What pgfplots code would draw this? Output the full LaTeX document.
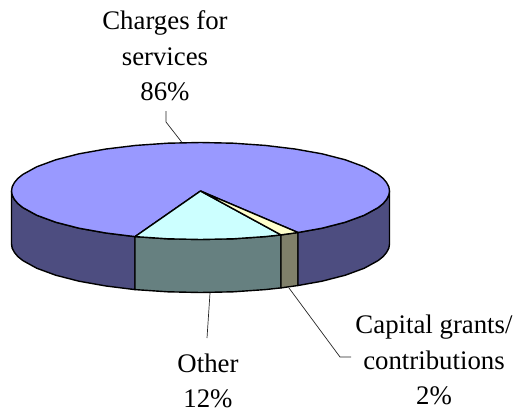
\documentclass[border=0pt]{standalone}
\usepackage{pgfplots}
\usepackage{fontspec}
\setmainfont{Liberation Serif}
\pgfplotsset{compat=1.18}
\definecolor{topA}{HTML}{9999FF}
\definecolor{topB}{HTML}{CCFFFF}
\definecolor{topC}{HTML}{FFFFCC}
\definecolor{sideA}{HTML}{4D4D80}
\definecolor{sideB}{HTML}{668080}
\definecolor{sideC}{HTML}{80806A}
\newcommand{\lab}{\fontsize{26.8}{35.5}\selectfont}
\begin{document}
\begin{tikzpicture}[x=1pt,y=1pt]
\useasboundingbox (0,0) rectangle (513pt,413pt);
\begin{axis}[at={(0,0)},anchor=south west,scale only axis,width=513pt,height=413pt,
  xmin=0,xmax=513,ymin=0,ymax=413,y dir=reverse,hide axis,clip=false]
% outer wall, left part
\addplot[fill=sideA,draw=black,line width=1.4pt,line join=round] coordinates {
(11.5,191)(12.2,195.2)(14.4,199.4)(17.9,203.6)(22.9,207.6)(36.8,215.25)(55.7,222.2)(79.0,228.2)(106.0,233.0)(135.0,236.6)
(135.0,289.6)(106.0,286.0)(79.0,281.2)(55.7,275.2)(36.8,268.25)(22.9,260.6)(17.9,256.6)(14.4,252.4)(12.2,248.2)(11.5,244)(11.5,191)};
% outer wall, Other
\addplot[fill=sideB,draw=black,line width=1.4pt,line join=round] coordinates {
(135.0,236.6)(167.7,238.8)(200.5,239.5)(233.3,238.8)(265.1,236.6)(281,234.9)
(281,287.9)(265.1,289.6)(233.3,291.8)(200.5,292.5)(167.7,291.8)(135.0,289.6)(135.0,236.6)};
% outer wall, Capital grants
\addplot[fill=sideC,draw=black,line width=1.4pt,line join=round] coordinates {
(281,234.9)(298,232.5)(298,285.5)(281,287.9)(281,234.9)};
% outer wall, right part
\addplot[fill=sideA,draw=black,line width=1.4pt,line join=round] coordinates {
(298,232.5)(322.0,228.2)(345.3,222.2)(364.2,215.25)(378.1,207.6)(383.1,203.6)(386.6,199.4)(388.8,195.2)(389.5,191)
(389.5,244)(388.8,248.2)(386.6,252.4)(383.1,256.6)(378.1,260.6)(364.2,268.25)(345.3,275.2)(322.0,281.2)(298,285.5)(298,232.5)};
% top, Charges for services
\addplot[fill=topA,draw=black,line width=1.4pt,line join=round] coordinates {
(200.5,191)(298,232.5)(322.0,228.2)(345.3,222.2)(364.2,215.25)(378.1,207.6)(383.1,203.6)(386.6,199.4)(388.8,195.2)(389.5,191)
(388.8,186.8)(386.6,182.6)(383.1,178.4)(378.1,174.4)(364.2,166.75)(345.3,159.8)(322.0,153.8)(295.0,149.0)(265.1,145.4)(233.3,143.2)(200.5,142.5)
(167.7,143.2)(135.9,145.4)(106.0,149.0)(79.0,153.8)(55.7,159.8)(36.8,166.75)(22.9,174.4)(17.9,178.4)(14.4,182.6)(12.2,186.8)(11.5,191)
(12.2,195.2)(14.4,199.4)(17.9,203.6)(22.9,207.6)(36.8,215.25)(55.7,222.2)(79.0,228.2)(106.0,233.0)(135.0,236.6)(200.5,191)};
% top, Other
\addplot[fill=topB,draw=black,line width=1.4pt,line join=round] coordinates {
(200.5,191)(135.0,236.6)(167.7,238.8)(200.5,239.5)(233.3,238.8)(265.1,236.6)(281,234.9)(200.5,191)};
% top, Capital grants
\addplot[fill=topC,draw=black,line width=1.4pt,line join=round] coordinates {
(200.5,191)(281,234.9)(298,232.5)(200.5,191)};
% leader lines
\addplot[draw=black!85,line width=0.7pt] coordinates {(166,111)(166,122)(182,142.5)};
\addplot[draw=black!85,line width=0.7pt] coordinates {(210,293)(207,338)};
\addplot[draw=black!85,line width=0.7pt] coordinates {(289,288)(340,357)(351,357)};
% labels
\node[align=center,font=\lab] at (axis cs:165,56) {Charges for\\services\\86\%};
\node[align=center,font=\lab] at (axis cs:208,381) {Other\\12\%};
\node[align=center,font=\lab] at (axis cs:434,360) {Capital grants/\\contributions\\2\%};
\end{axis}
\end{tikzpicture}
\end{document}
